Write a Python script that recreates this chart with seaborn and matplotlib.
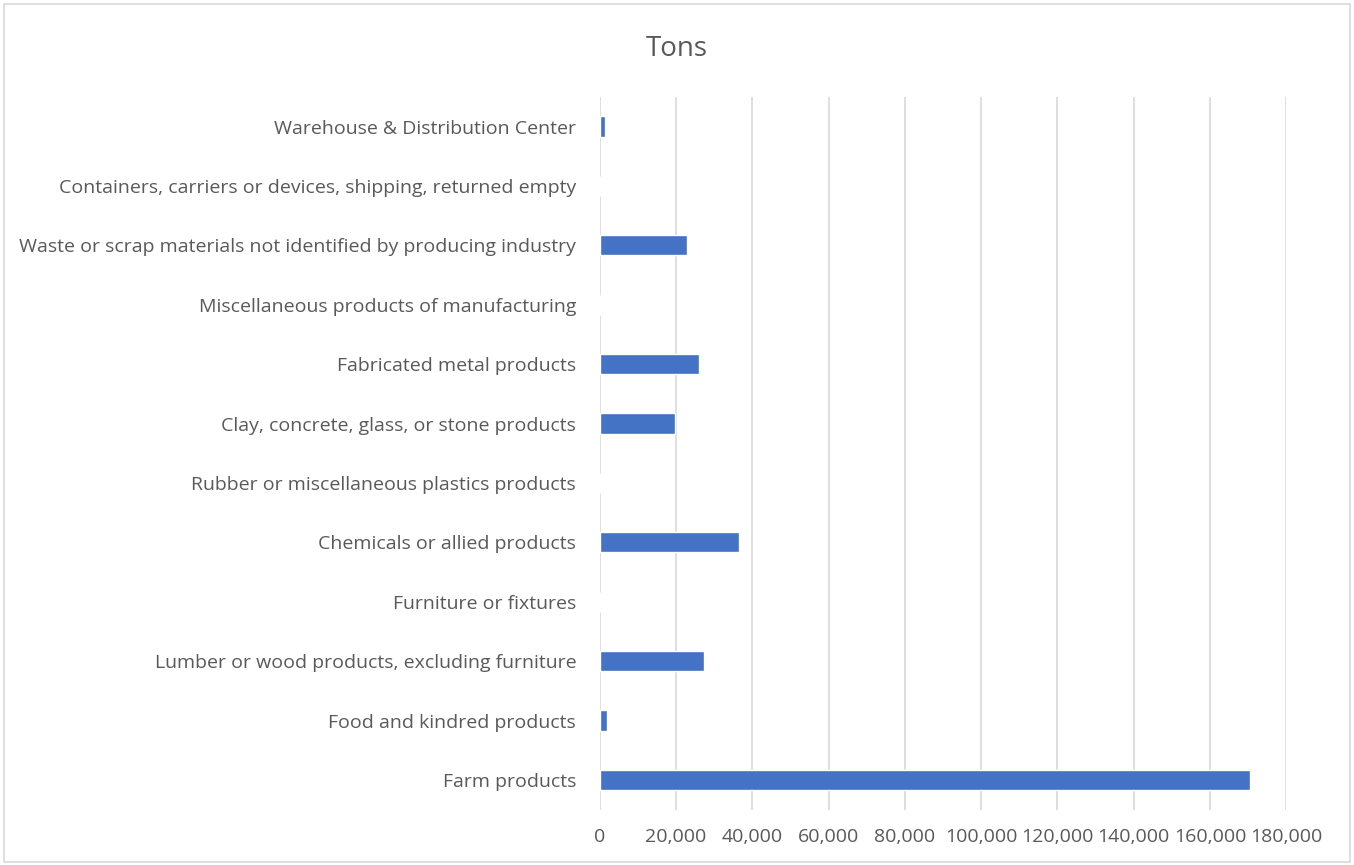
import matplotlib
matplotlib.use("Agg")
import matplotlib.pyplot as plt
import matplotlib.ticker as mticker
from matplotlib.patches import Rectangle
import pandas as pd
import seaborn as sns

categories = [
    "Warehouse & Distribution Center",
    "Containers, carriers or devices, shipping, returned empty",
    "Waste or scrap materials not identified by producing industry",
    "Miscellaneous products of manufacturing",
    "Fabricated metal products",
    "Clay, concrete, glass, or stone products",
    "Rubber or miscellaneous plastics products",
    "Chemicals or allied products",
    "Furniture or fixtures",
    "Lumber or wood products, excluding furniture",
    "Food and kindred products",
    "Farm products",
]
tons = [1300, 0, 22900, 0, 26000, 19800, 0, 36600, 0, 27300, 1900, 170600]
x_ticks = list(range(0, 180001, 20000))

df = pd.DataFrame({"Category": categories, "Tons": tons})

sns.set_theme(style="white")
plt.rcParams["font.family"] = ["Open Sans", "DejaVu Sans"]

fig = plt.figure(figsize=(13.54, 8.65), dpi=100)
ax = fig.add_axes([0.443, 0.064, 0.507, 0.824])

sns.barplot(data=df, x="Tons", y="Category", order=categories,
            color="#4472C4", width=0.34, saturation=1, ax=ax)

ax.set_xlim(0, 180000)
ax.set_xticks(x_ticks)
ax.xaxis.set_major_formatter(mticker.FuncFormatter(lambda v, p: f"{int(v):,}"))
ax.grid(axis="x", color="#D9D9D9", linewidth=1.2)
ax.set_axisbelow(True)
for s in ax.spines.values():
    s.set_visible(False)
ax.tick_params(axis="both", length=0, labelsize=14, labelcolor="#595959")
ax.tick_params(axis="x", pad=13)
ax.tick_params(axis="y", pad=17)
ax.set_xlabel("")
ax.set_ylabel("")

fig.text(0.5, 0.943, "Tons", ha="center", va="center", fontsize=20, color="#595959")

fig.patches.append(Rectangle((0.003, 0.003), 0.994, 0.992, transform=fig.transFigure,
                             fill=False, edgecolor="#D9D9D9", linewidth=1.2))

fig.savefig("out.png", dpi=100)
